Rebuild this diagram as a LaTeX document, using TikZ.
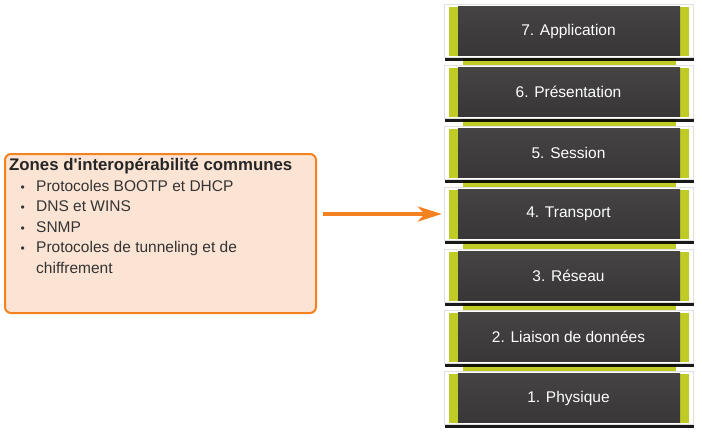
\documentclass[tikz,border=0pt]{standalone}
\usepackage{fontspec}
\setmainfont{Liberation Sans}[Ligatures=TeXOff]
\usetikzlibrary{arrows.meta,shadows,calc}
\definecolor{zoneorange}{HTML}{F58220}
\definecolor{zonepeach}{HTML}{FCE4D4}
\definecolor{zonetext}{HTML}{333333}
\definecolor{layergreen}{HTML}{C0CB25}
\definecolor{layertop}{HTML}{454343}
\definecolor{layerbot}{HTML}{383636}
\newcommand{\zonebul}{\hspace*{11.5pt}\makebox[15.5pt][l]{\fontsize{12}{12}\selectfont\textbullet}}

\begin{document}
\begin{tikzpicture}[x=1pt,y=-1pt,
  osilayer/.style={rectangle, fill=white, draw=black!12, inner sep=0pt,
    minimum width=249pt, minimum height=53pt, text=white,
    font=\fontsize{15.5}{18}\selectfont,
    drop shadow={shadow xshift=1pt, shadow yshift=-3pt, fill=black, opacity=0.9},
    path picture={
      \fill[layergreen] ([xshift=5pt,yshift=2pt]path picture bounding box.south west) rectangle ([xshift=-4pt,yshift=-2pt]path picture bounding box.north east);
      \shade[top color=layertop, bottom color=layerbot] ([xshift=14pt,yshift=2pt]path picture bounding box.south west) rectangle ([xshift=-13pt,yshift=-2pt]path picture bounding box.north east);
    }},
  zonebox/.style={rectangle, rounded corners=6pt, draw=zoneorange, line width=2pt,
    fill=zonepeach, minimum width=311pt, minimum height=159pt},
  zonelines/.style={anchor=north west, inner sep=0pt, align=left, text=zonetext,
    font=\fontsize{15.5}{20.5}\selectfont},
  zonearrow/.style={draw=zoneorange, line width=4pt,
    -{Stealth[length=24pt,width=15pt,inset=7pt]}}]
\useasboundingbox (0,0) rectangle (702,432);

\fill[layergreen] (463,31) rectangle (676,398); %strip behind the layers

\node[osilayer] (l7) at (568.5,31) {7. Application};
\node[osilayer] (l6) at (568.5,92) {6. Présentation};
\node[osilayer] (l5) at (568.5,153) {5. Session};
\node[osilayer] (l4) at (568.5,214) {4. Transport};
\node[osilayer] (l3) at (568.5,276) {3. Réseau};
\node[osilayer] (l2) at (568.5,337) {2. Liaison de données};
\node[osilayer] (l1) at (568.5,398) {1. Physique};

\node[zonebox] (zones) at (160.5,233.5) {};
\node[zonelines] (zonestext) at (9,158) {{\fontsize{16.8}{20}\selectfont\bfseries\color{black!85}Zones d'interopérabilité communes}\\
\zonebul Protocoles BOOTP et DHCP\\
\zonebul DNS et WINS\\
\zonebul SNMP\\
\zonebul Protocoles de tunneling et de\\
\hspace*{27pt}chiffrement};

\draw[zonearrow] ($(zones.east |- l4)+(6pt,0)$) -- ([xshift=-2pt]l4.west);
\end{tikzpicture}
\end{document}
